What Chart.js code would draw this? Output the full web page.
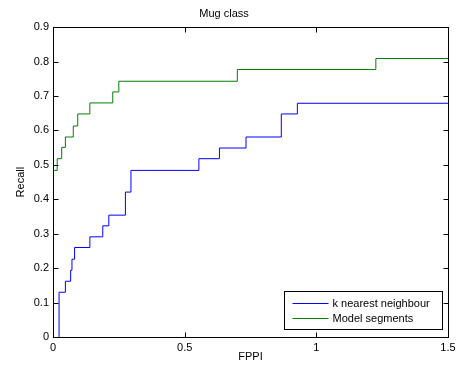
<!DOCTYPE html>
<html>
<head>
<meta charset="utf-8">
<script src="https://cdn.jsdelivr.net/npm/chart.js@4/dist/chart.umd.min.js"></script>
<style>
html, body { margin: 0; padding: 0; background: #fff; }
canvas { display: block; }
</style>
</head>
<body>
<canvas id="gRecall" width="456" height="372"></canvas>
<script>
// FPPI / recall steps
var knnX = [0.023, 0.023, 0.047, 0.067, 0.072, 0.082, 0.14, 0.189, 0.212, 0.275, 0.296, 0.554, 0.632, 0.733, 0.867, 0.928, 1.5];
var knnY = [0, 0.130, 0.162, 0.194, 0.226, 0.260, 0.291, 0.323, 0.354, 0.421, 0.484, 0.518, 0.549, 0.581, 0.648, 0.679, 0.679];
var segX = [0, 0.016, 0.033, 0.047, 0.077, 0.094, 0.14, 0.227, 0.25, 0.70, 1.226, 1.5];
var segY = [0.484, 0.518, 0.551, 0.581, 0.613, 0.648, 0.680, 0.712, 0.743, 0.777, 0.809, 0.809];
var xTicks = [0, 0.5, 1, 1.5];
var yTicks = [0, 0.1, 0.2, 0.3, 0.4, 0.5, 0.6, 0.7, 0.8, 0.9];

var FONT = "'Liberation Sans', Arial, sans-serif";

function pts(xs, ys) {
  return xs.map(function (x, i) { return { x: x, y: ys[i] }; });
}

// box, inward ticks and the legend inside the axes
var boxPlugin = {
  id: 'matlabBox',
  afterDatasetsDraw: function (chart) {
    var ctx = chart.ctx, a = chart.chartArea;
    var sx = chart.scales.x, sy = chart.scales.y;
    var L = Math.round(a.left) + 0.5, R = Math.round(a.right) + 0.5;
    var T = Math.round(a.top) + 0.5, B = Math.round(a.bottom) + 0.5;
    ctx.save();
    ctx.strokeStyle = '#000';
    ctx.lineWidth = 1;
    ctx.strokeRect(L, T, R - L, B - T);
    ctx.beginPath();
    xTicks.forEach(function (v) {
      var p = Math.round(sx.getPixelForValue(v)) + 0.5;
      ctx.moveTo(p, B); ctx.lineTo(p, B - 5);
      ctx.moveTo(p, T); ctx.lineTo(p, T + 5);
    });
    yTicks.forEach(function (v) {
      var p = Math.round(sy.getPixelForValue(v)) + 0.5;
      ctx.moveTo(L, p); ctx.lineTo(L + 5, p);
      ctx.moveTo(R, p); ctx.lineTo(R - 5, p);
    });
    ctx.stroke();

    // legend
    var ds = chart.data.datasets;
    var bw = 158, bh = 38;
    var bx = Math.round(a.right) - 6 - bw + 0.5;
    var by = Math.round(a.bottom) - 8 - bh + 0.5;
    ctx.fillStyle = '#fff';
    ctx.fillRect(bx, by, bw, bh);
    ctx.strokeStyle = '#000';
    ctx.strokeRect(bx, by, bw, bh);
    ctx.font = '11px ' + FONT;
    ctx.textBaseline = 'middle';
    ds.forEach(function (d, i) {
      var yy = Math.round(by + 11 + i * 15) + 0.5;
      ctx.strokeStyle = d.borderColor;
      ctx.beginPath();
      ctx.moveTo(bx + 8, yy); ctx.lineTo(bx + 44, yy);
      ctx.stroke();
      ctx.fillStyle = '#000';
      ctx.fillText(d.label, bx + 48, yy);
    });
    ctx.restore();
  }
};

new Chart(document.getElementById('gRecall').getContext('2d'), {
  type: 'scatter',
  data: {
    datasets: [{
      label: 'k nearest neighbour',
      data: pts(knnX, knnY),
      showLine: true,
      stepped: 'before',
      borderColor: '#0000ff',
      borderWidth: 1,
      pointRadius: 0,
      fill: false
    }, {
      label: 'Model segments',
      data: pts(segX, segY),
      showLine: true,
      stepped: 'before',
      borderColor: '#008000',
      borderWidth: 1,
      pointRadius: 0,
      fill: false
    }]
  },
  options: {
    responsive: false,
    animation: false,
    devicePixelRatio: 1,
    layout: { padding: { left: 0, right: 8, top: 0, bottom: 0 } },
    plugins: {
      legend: { display: false },
      tooltip: { enabled: false },
      title: {
        display: true,
        text: 'Mug class',
        color: '#000',
        font: { family: FONT, size: 11, weight: 'normal' },
        padding: { top: 7, bottom: 7 }
      }
    },
    scales: {
      x: {
        type: 'linear',
        min: 0, max: 1.5,
        afterBuildTicks: function (s) { s.ticks = xTicks.map(function (v) { return { value: v }; }); },
        afterFit: function (s) { s.height = 35; s.paddingLeft = 0; s.paddingRight = 0; },
        grid: { display: false, drawTicks: false, tickLength: 0 },
        border: { display: false },
        ticks: { color: '#000', padding: 4, maxRotation: 0, font: { family: FONT, size: 11 },
          callback: function (v) { return String(v); } },
        title: { display: true, text: 'FPPI', color: '#000', font: { family: FONT, size: 11 }, padding: { top: 0, bottom: 8 } }
      },
      y: {
        type: 'linear',
        min: 0, max: 0.9,
        afterBuildTicks: function (s) { s.ticks = yTicks.map(function (v) { return { value: v }; }); },
        afterFit: function (s) { s.width = 53; },
        grid: { display: false, drawTicks: false, tickLength: 0 },
        border: { display: false },
        ticks: { color: '#000', padding: 4, font: { family: FONT, size: 11 },
          callback: function (v) { return String(v); } },
        title: { display: true, text: 'Recall', color: '#000', font: { family: FONT, size: 11 }, padding: { top: 14, bottom: 0 } }
      }
    }
  },
  plugins: [boxPlugin]
});
</script>
</body>
</html>
